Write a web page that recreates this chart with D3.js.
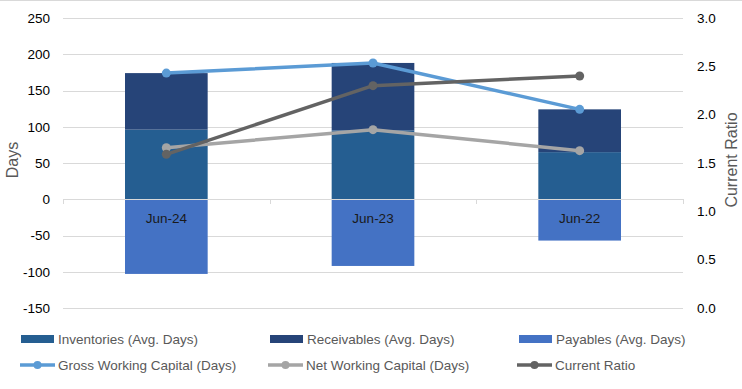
<!DOCTYPE html>
<html>
<head>
<meta charset="utf-8">
<script src="https://cdn.jsdelivr.net/npm/d3@7"></script>
<style>
  body { margin: 0; background: #fff; }
  text { font-family: "Liberation Sans", "DejaVu Sans", sans-serif; }
</style>
</head>
<body>
<script>
var categories = ["Jun-24", "Jun-23", "Jun-22"];
var inventories = [96, 95, 65];
var receivables = [78, 93, 59];
var payables = [-103, -92, -57];
var grossWC = [174, 188, 124];
var netWC = [71, 96, 67];
var currentRatio = [1.59, 2.30, 2.40];
var leftTicks = [-150, -100, -50, 0, 50, 100, 150, 200, 250];
var rightTicks = [0, 0.5, 1, 1.5, 2, 2.5, 3];

var width = 742, height = 389;
var plot = { left: 63, right: 683, top: 18, bottom: 308 };

var colInv = "#255E91", colRec = "#264478", colPay = "#4472C4";
var colGross = "#5B9BD5", colNet = "#A5A5A5", colRatio = "#636363";
var gridColor = "#D9D9D9", labelColor = "#595959";

var svg = d3.select("body").append("svg")
    .attr("width", width)
    .attr("height", height);

// top border of the chart area
svg.append("line")
    .attr("x1", 0).attr("x2", width)
    .attr("y1", 0.5).attr("y2", 0.5)
    .attr("stroke", gridColor);

var x = d3.scaleBand()
    .domain(categories)
    .range([plot.left, plot.right])
    .paddingInner(0.6)
    .paddingOuter(0.3);

var xOuter = d3.scaleBand()
    .domain(categories)
    .range([plot.left, plot.right]);

var y = d3.scaleLinear().domain([-150, 250]).range([plot.bottom, plot.top]);
var y2 = d3.scaleLinear().domain([0, 3]).range([plot.bottom, plot.top]);

// gridlines
svg.append("g").selectAll("line")
    .data(leftTicks)
    .join("line")
    .attr("x1", plot.left).attr("x2", plot.right)
    .attr("y1", function(d) { return Math.round(y(d)) + 0.5; })
    .attr("y2", function(d) { return Math.round(y(d)) + 0.5; })
    .attr("stroke", gridColor)
    .attr("stroke-width", 1);

// left axis labels
var leftAxis = svg.append("g")
    .attr("transform", "translate(" + (plot.left - 13) + ",0)")
    .call(d3.axisLeft(y).tickValues(leftTicks).tickFormat(function(d) { return String(d); }).tickSize(0).tickPadding(0));
leftAxis.select(".domain").remove();
leftAxis.selectAll("text")
    .attr("fill", "#000")
    .style("font-size", "13.5px");

// right axis labels
var rightAxis = svg.append("g")
    .attr("transform", "translate(" + (plot.right + 14) + ",0)")
    .call(d3.axisRight(y2).tickValues(rightTicks).tickFormat(d3.format(".1f")).tickSize(0).tickPadding(0));
rightAxis.select(".domain").remove();
rightAxis.selectAll("text")
    .attr("fill", "#000")
    .style("font-size", "13.5px");

// bars
var idx = d3.range(categories.length);
var bars = svg.append("g");
bars.selectAll(".inv").data(idx).join("rect")
    .attr("x", function(i) { return x(categories[i]); })
    .attr("width", x.bandwidth())
    .attr("y", function(i) { return y(inventories[i]); })
    .attr("height", function(i) { return y(0) - y(inventories[i]); })
    .attr("fill", colInv);
bars.selectAll(".rec").data(idx).join("rect")
    .attr("x", function(i) { return x(categories[i]); })
    .attr("width", x.bandwidth())
    .attr("y", function(i) { return y(inventories[i] + receivables[i]); })
    .attr("height", function(i) { return y(inventories[i]) - y(inventories[i] + receivables[i]); })
    .attr("fill", colRec);
bars.selectAll(".pay").data(idx).join("rect")
    .attr("x", function(i) { return x(categories[i]); })
    .attr("width", x.bandwidth())
    .attr("y", y(0))
    .attr("height", function(i) { return y(payables[i]) - y(0); })
    .attr("fill", colPay);

// zero axis line and ticks
svg.append("line")
    .attr("x1", plot.left).attr("x2", plot.right)
    .attr("y1", Math.round(y(0)) + 0.5).attr("y2", Math.round(y(0)) + 0.5)
    .attr("stroke", gridColor);
svg.append("g").selectAll("line")
    .data(categories.concat(["end"]))
    .join("line")
    .attr("x1", function(d, i) { return Math.round(plot.left + i * xOuter.bandwidth()) + 0.5; })
    .attr("x2", function(d, i) { return Math.round(plot.left + i * xOuter.bandwidth()) + 0.5; })
    .attr("y1", Math.round(y(0)))
    .attr("y2", Math.round(y(0)) + 5)
    .attr("stroke", gridColor);

// category labels
svg.append("g").selectAll("text")
    .data(categories)
    .join("text")
    .attr("x", function(d) { return xOuter(d) + xOuter.bandwidth() / 2; })
    .attr("y", y(0) + 24)
    .attr("text-anchor", "middle")
    .attr("fill", "#1a1a1a")
    .style("font-size", "13.5px")
    .text(function(d) { return d; });

// lines
function drawLine(values, scale, color) {
    var line = d3.line()
        .x(function(d, i) { return xOuter(categories[i]) + xOuter.bandwidth() / 2; })
        .y(function(d) { return scale(d); });
    svg.append("path")
        .datum(values)
        .attr("d", line)
        .attr("fill", "none")
        .attr("stroke", color)
        .attr("stroke-width", 3.5)
        .attr("stroke-linejoin", "round");
    svg.append("g").selectAll("circle")
        .data(values)
        .join("circle")
        .attr("cx", function(d, i) { return xOuter(categories[i]) + xOuter.bandwidth() / 2; })
        .attr("cy", function(d) { return scale(d); })
        .attr("r", 4.5)
        .attr("fill", color);
}
drawLine(grossWC, y, colGross);
drawLine(netWC, y, colNet);
drawLine(currentRatio, y2, colRatio);

// axis titles
svg.append("text")
    .attr("transform", "translate(18,160) rotate(-90)")
    .attr("text-anchor", "middle")
    .attr("fill", labelColor)
    .style("font-size", "16px")
    .text("Days");
svg.append("text")
    .attr("transform", "translate(737,160) rotate(-90)")
    .attr("text-anchor", "middle")
    .attr("fill", labelColor)
    .style("font-size", "16px")
    .text("Current Ratio");

// legend
var legendItems = [
    { name: "Inventories (Avg. Days)", color: colInv, type: "bar", x: 21, y: 339 },
    { name: "Receivables (Avg. Days)", color: colRec, type: "bar", x: 270, y: 339 },
    { name: "Payables (Avg. Days)", color: colPay, type: "bar", x: 519, y: 339 },
    { name: "Gross Working Capital (Days)", color: colGross, type: "line", x: 20, y: 365 },
    { name: "Net Working Capital (Days)", color: colNet, type: "line", x: 268, y: 365 },
    { name: "Current Ratio", color: colRatio, type: "line", x: 517, y: 365 }
];
var legend = svg.append("g").selectAll("g")
    .data(legendItems)
    .join("g")
    .attr("transform", function(d) { return "translate(" + d.x + "," + d.y + ")"; });
legend.filter(function(d) { return d.type === "bar"; })
    .append("rect")
    .attr("x", 0).attr("y", -4)
    .attr("width", 33).attr("height", 8)
    .attr("fill", function(d) { return d.color; });
var lineItems = legend.filter(function(d) { return d.type === "line"; });
lineItems.append("line")
    .attr("x1", 0).attr("x2", 35)
    .attr("y1", 0).attr("y2", 0)
    .attr("stroke", function(d) { return d.color; })
    .attr("stroke-width", 3.5);
lineItems.append("circle")
    .attr("cx", 17.5).attr("cy", 0).attr("r", 4)
    .attr("fill", function(d) { return d.color; });
legend.append("text")
    .attr("x", function(d) { return d.type === "bar" ? 37 : 38; })
    .attr("y", 5)
    .attr("fill", labelColor)
    .style("font-size", "13.5px")
    .text(function(d) { return d.name; });
</script>
</body>
</html>
